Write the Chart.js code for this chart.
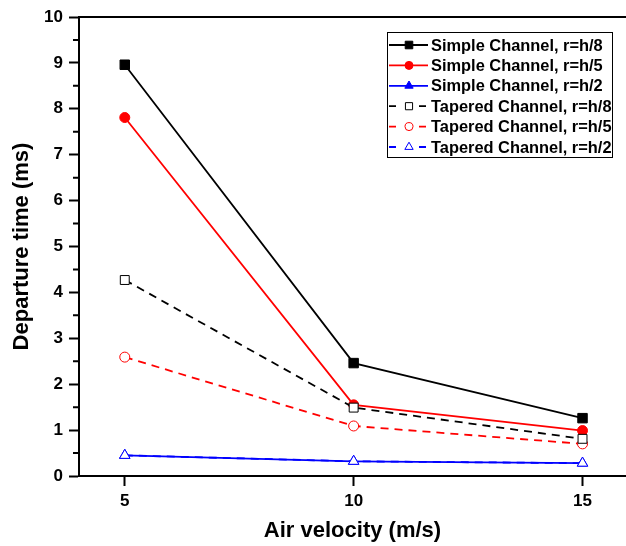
<!DOCTYPE html>
<html>
<head>
<meta charset="utf-8">
<script src="https://cdn.jsdelivr.net/npm/chart.js@4.4.0/dist/chart.umd.min.js"></script>
<style>
html,body{margin:0;padding:0;background:#fff;}
</style>
</head>
<body>
<canvas id="canvas" width="626" height="546"></canvas>
<script>
// dados
var velocity = [5, 10, 15];
var simpleH8 = [8.96, 2.46, 1.26];
var simpleH5 = [7.81, 1.55, 0.99];
var simpleH2 = [0.45, 0.32, 0.28];
var taperedH8 = [4.27, 1.49, 0.81];
var taperedH5 = [2.59, 1.09, 0.70];
var taperedH2 = [0.45, 0.32, 0.28];
var labels = ['Simple Channel, r=h/8', 'Simple Channel, r=h/5', 'Simple Channel, r=h/2',
              'Tapered Channel, r=h/8', 'Tapered Channel, r=h/5', 'Tapered Channel, r=h/2'];
var xTicks = [5, 10, 15];
var yTicks = [0, 1, 2, 3, 4, 5, 6, 7, 8, 9, 10];

var fonte = 'Liberation Sans, Arial, sans-serif';

function pontos(xs, ys){
  var out = [];
  for (var i = 0; i < xs.length; i++){
    out.push({x: xs[i], y: ys[i]});
  }
  return out;
}

function simples(label, ys, cor, estilo, raio){
  return {
    label: label, data: pontos(velocity, ys),
    borderColor: cor, backgroundColor: cor, borderWidth: 1.8,
    pointStyle: estilo, pointRadius: raio, pointBackgroundColor: cor,
    pointBorderColor: cor, pointBorderWidth: 1, order: 1
  };
}

function afunilado(label, ys, cor, estilo, raio){
  return {
    label: label, data: pontos(velocity, ys),
    borderColor: cor, backgroundColor: '#fff', borderWidth: 1.8, borderDash: [8, 6],
    pointStyle: estilo, pointRadius: raio, pointBackgroundColor: '#fff',
    pointBorderColor: cor, pointBorderWidth: 1, order: 0
  };
}

var datasets = [
  simples(labels[0], simpleH8, '#000000', 'rect', 6.7),
  simples(labels[1], simpleH5, '#ff0000', 'circle', 5),
  simples(labels[2], simpleH2, '#0000ff', 'triangle', 6),
  afunilado(labels[3], taperedH8, '#000000', 'rect', 6.3),
  afunilado(labels[4], taperedH5, '#ff0000', 'circle', 5),
  afunilado(labels[5], taperedH2, '#0000ff', 'triangle', 6)
];

function desenhaLegenda(chart){
  var ctx = chart.ctx;
  var a = chart.chartArea;
  var x0 = a.right - 239, y0 = a.top + 15, w = 225, h = 125;
  ctx.save();
  ctx.fillStyle = '#fff';
  ctx.fillRect(x0, y0, w, h);
  ctx.strokeStyle = '#000';
  ctx.lineWidth = 1;
  ctx.strokeRect(x0 + 0.5, y0 + 0.5, w, h);
  ctx.font = 'bold 16.4px ' + fonte;
  ctx.textBaseline = 'middle';
  for (var i = 0; i < chart.data.datasets.length; i++){
    var ds = chart.data.datasets[i];
    var cy = y0 + 13 + i * 20.4;
    var mx = x0 + 22;
    ctx.strokeStyle = ds.borderColor;
    ctx.lineWidth = ds.borderWidth;
    ctx.setLineDash([]);
    ctx.beginPath();
    if (ds.borderDash){
      ctx.moveTo(x0 + 2, cy); ctx.lineTo(x0 + 9, cy);
      ctx.moveTo(x0 + 32, cy); ctx.lineTo(x0 + 39, cy);
    } else {
      ctx.moveTo(x0 + 2, cy); ctx.lineTo(x0 + 41, cy);
    }
    ctx.stroke();
    ctx.fillStyle = ds.pointBackgroundColor;
    ctx.strokeStyle = ds.pointBorderColor;
    ctx.lineWidth = 1;
    Chart.helpers.drawPoint(ctx, {pointStyle: ds.pointStyle, radius: ds.pointRadius * 0.8, rotation: 0, borderWidth: 1}, mx, cy);
    ctx.fillStyle = '#000';
    ctx.fillText(ds.label, x0 + 44, cy + 1);
  }
  ctx.restore();
}

var moldura = {
  id: 'moldura',
  afterDraw: function(chart){
    var ctx = chart.ctx;
    var a = chart.chartArea;
    var y = chart.scales.y;
    ctx.save();
    ctx.strokeStyle = '#000';
    ctx.lineWidth = 2;
    ctx.beginPath();
    ctx.moveTo(a.left, a.top);
    ctx.lineTo(a.right, a.top);
    // ticks menores
    for (var i = 0; i < yTicks.length - 1; i++){
      var py = y.getPixelForValue(yTicks[i] + 0.5);
      ctx.moveTo(a.left - 6, py);
      ctx.lineTo(a.left, py);
    }
    ctx.stroke();
    ctx.restore();
    desenhaLegenda(chart);
  }
};

var ctx = document.getElementById('canvas').getContext('2d');
window.myLine = new Chart(ctx, {
  type: 'line',
  data: {datasets: datasets},
  plugins: [moldura],
  options: {
    responsive: false,
    animation: false,
    layout: {autoPadding: false, padding: {top: 17, right: 0, left: 0, bottom: 0}},
    plugins: {legend: {display: false}, tooltip: {enabled: false}},
    scales: {
      x: {
        type: 'linear', min: 4, max: 15.95,
        afterBuildTicks: function(s){ s.ticks = xTicks.map(function(v){ return {value: v}; }); },
        afterFit: function(s){ s.height = 70; s.paddingRight = 0; s.paddingLeft = 0; },
        ticks: {font: {family: fonte, size: 17, weight: 'bold'}, color: '#000', padding: 5, maxRotation: 0},
        grid: {drawOnChartArea: false, tickLength: 10, tickWidth: 2, tickColor: '#000'},
        border: {color: '#000', width: 2},
        title: {display: true, text: 'Air velocity (m/s)', color: '#000',
                font: {family: fonte, size: 22, weight: 'bold'}, padding: {top: 0, bottom: 2}}
      },
      y: {
        min: 0, max: 10,
        afterBuildTicks: function(s){ s.ticks = yTicks.map(function(v){ return {value: v}; }); },
        afterFit: function(s){ s.width = 79; },
        ticks: {font: {family: fonte, size: 17, weight: 'bold'}, color: '#000', padding: 6},
        grid: {drawOnChartArea: false, tickLength: 10, tickWidth: 2, tickColor: '#000'},
        border: {color: '#000', width: 2},
        title: {display: true, text: 'Departure time (ms)', color: '#000',
                font: {family: fonte, size: 22, weight: 'bold'}, padding: {top: 9, bottom: 0}}
      }
    }
  }
});
</script>
</body>
</html>
